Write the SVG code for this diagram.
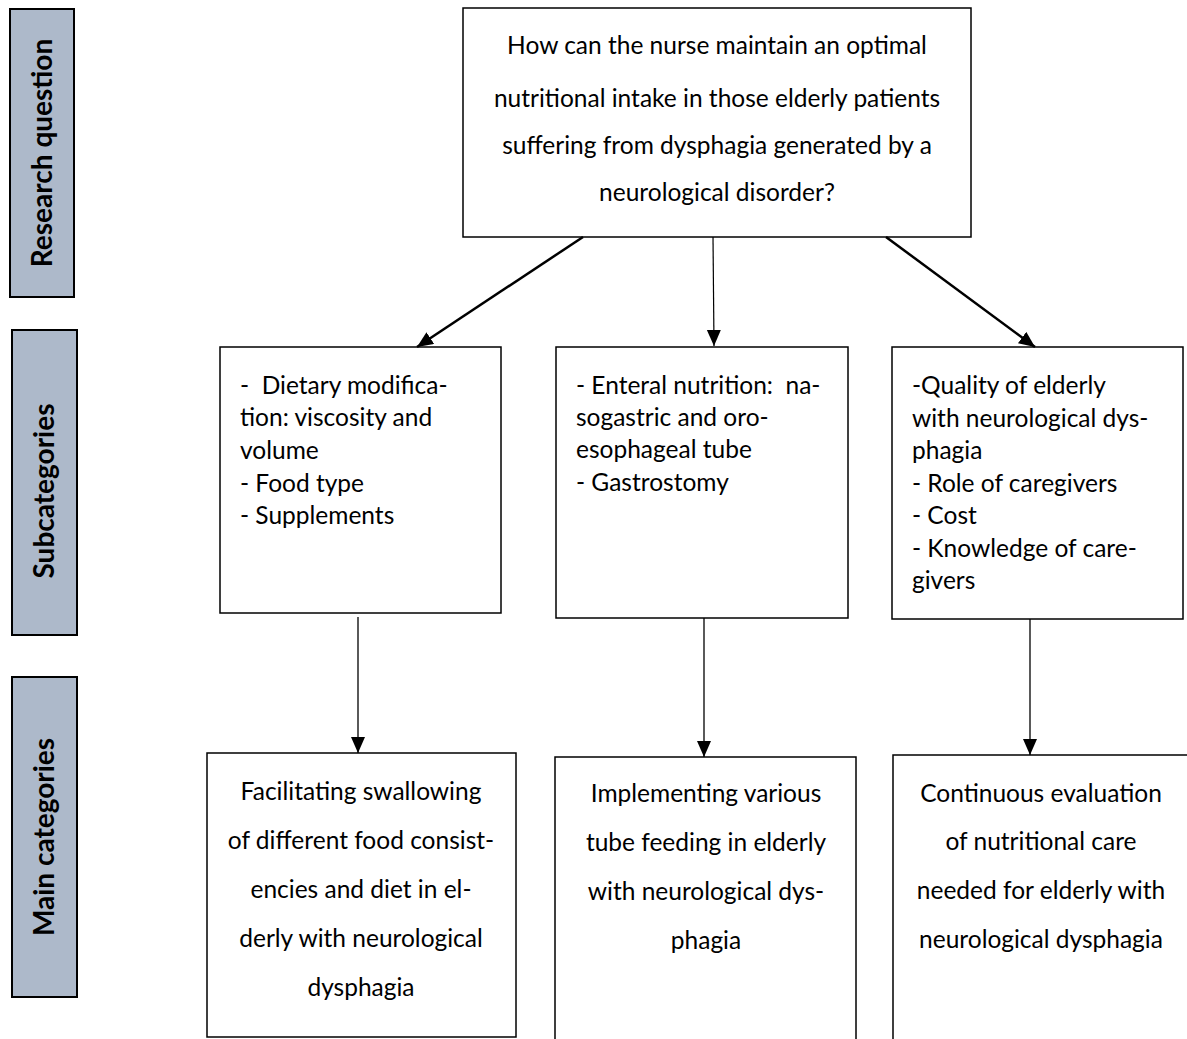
<svg xmlns="http://www.w3.org/2000/svg" width="1187" height="1039" viewBox="0 0 1187 1039">
<style>
.lbl{fill:#adb9ca;stroke:#000;stroke-width:2}
.lt{font-family:Lato,"Open Sans","Liberation Sans",sans-serif;font-weight:bold;font-size:28px;fill:#000;text-anchor:middle}
.box{fill:#fff;stroke:#000;stroke-width:1.5}
.t{font-family:Lato,"Open Sans","Liberation Sans",sans-serif;font-size:24.5px;fill:#000}
.c{text-anchor:middle}
.con{stroke:#000;fill:none}
</style>
<defs>
<marker id="ah" markerUnits="userSpaceOnUse" markerWidth="18" markerHeight="16" refX="16" refY="7" orient="auto">
<path d="M0,0 L16,7 L0,14 z" fill="#000"/>
</marker>
</defs>
<rect width="1187" height="1039" fill="#fff"/>
<g id="label-research">
<rect class="lbl" x="10" y="9" width="64" height="288"/>
<text class="lt" transform="translate(52,153) rotate(-90)">Research question</text>
</g>
<g id="label-sub">
<rect class="lbl" x="12" y="330" width="65" height="305"/>
<text class="lt" transform="translate(54,491) rotate(-90)">Subcategories</text>
</g>
<g id="label-main">
<rect class="lbl" x="12" y="677" width="65" height="320"/>
<text class="lt" transform="translate(54,837) rotate(-90)">Main categories</text>
</g>
<g id="question">
<rect class="box" x="463" y="8" width="508" height="229"/>
<text class="t c" x="717" y="54">How can the nurse maintain an optimal</text>
<text class="t c" x="717" y="107">nutritional intake in those elderly patients</text>
<text class="t c" x="717" y="154">suffering from dysphagia generated by a</text>
<text class="t c" x="717" y="201">neurological disorder?</text>
</g>
<g id="sub1">
<rect class="box" x="220" y="347" width="281" height="266"/>
<text class="t" x="240" y="394" xml:space="preserve">-  Dietary modifica-</text>
<text class="t" x="240" y="426">tion: viscosity and</text>
<text class="t" x="240" y="459">volume</text>
<text class="t" x="240" y="492">- Food type</text>
<text class="t" x="240" y="524">- Supplements</text>
</g>
<g id="sub2">
<rect class="box" x="556" y="347" width="292" height="271"/>
<text class="t" x="576" y="394" xml:space="preserve">- Enteral nutrition:  na-</text>
<text class="t" x="576" y="426">sogastric and oro-</text>
<text class="t" x="576" y="458">esophageal tube</text>
<text class="t" x="576" y="491">- Gastrostomy</text>
</g>
<g id="sub3">
<rect class="box" x="892" y="347" width="291" height="272"/>
<text class="t" x="912" y="394">-Quality of elderly</text>
<text class="t" x="912" y="427">with neurological dys-</text>
<text class="t" x="912" y="459">phagia</text>
<text class="t" x="912" y="492">- Role of caregivers</text>
<text class="t" x="912" y="524">- Cost</text>
<text class="t" x="912" y="557">- Knowledge of care-</text>
<text class="t" x="912" y="589">givers</text>
</g>
<g id="main1">
<rect class="box" x="207" y="753" width="309" height="284" stroke-width="2"/>
<text class="t c" x="361" y="800">Facilitating swallowing</text>
<text class="t c" x="361" y="849">of different food consist-</text>
<text class="t c" x="361" y="898">encies and diet in el-</text>
<text class="t c" x="361" y="947">derly with neurological</text>
<text class="t c" x="361" y="996">dysphagia</text>
</g>
<g id="main2">
<rect class="box" x="555" y="757" width="301" height="300"/>
<text class="t c" x="706" y="802">Implementing various</text>
<text class="t c" x="706" y="851">tube feeding in elderly</text>
<text class="t c" x="706" y="900">with neurological dys-</text>
<text class="t c" x="706" y="949">phagia</text>
</g>
<g id="main3">
<rect class="box" x="893" y="755" width="310" height="300"/>
<text class="t c" x="1041" y="802">Continuous evaluation</text>
<text class="t c" x="1041" y="850">of nutritional care</text>
<text class="t c" x="1041" y="899">needed for elderly with</text>
<text class="t c" x="1041" y="948">neurological dysphagia</text>
</g>
<g id="connectors">
<line class="con" x1="583" y1="237" x2="417" y2="347" stroke-width="2.5" marker-end="url(#ah)"/>
<line class="con" x1="713" y1="237" x2="714" y2="346" stroke-width="1.2" marker-end="url(#ah)"/>
<line class="con" x1="886" y1="237" x2="1035" y2="347" stroke-width="2.5" marker-end="url(#ah)"/>
<line class="con" x1="358" y1="617" x2="358" y2="753" stroke-width="1.3" marker-end="url(#ah)"/>
<line class="con" x1="704" y1="618" x2="704" y2="757" stroke-width="1.3" marker-end="url(#ah)"/>
<line class="con" x1="1030" y1="619" x2="1030" y2="755" stroke-width="1.3" marker-end="url(#ah)"/>
</g>
</svg>
